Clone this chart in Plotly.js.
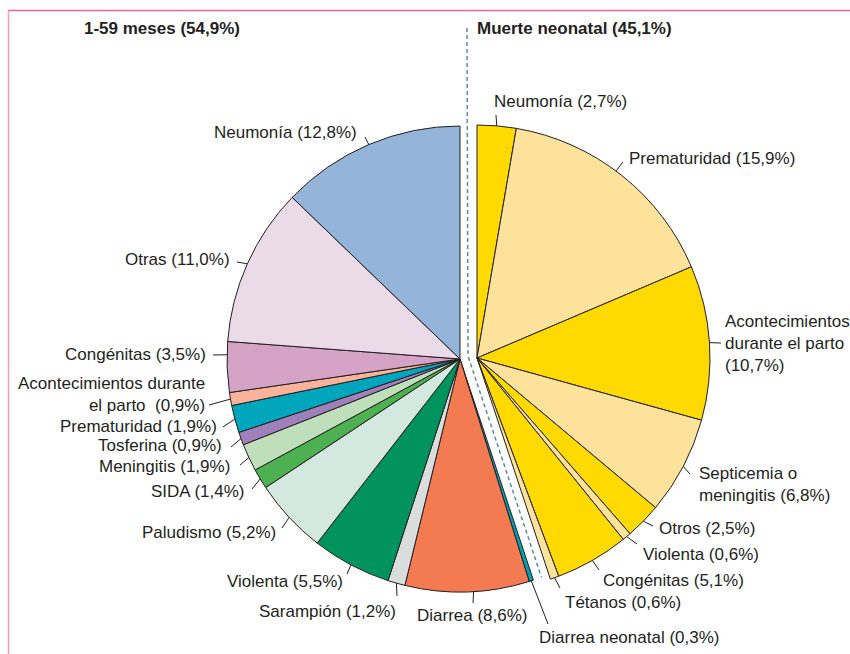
<!DOCTYPE html>
<html><head><meta charset="utf-8">
<script src="https://cdn.plot.ly/plotly-3.0.1.min.js"></script>
<style>html,body{margin:0;padding:0;background:#fff}#chart{width:850px;height:654px}</style>
</head><body><div id="chart"></div>
<script>
// ---------- DATA ----------
const groupTitles = ['1-59 meses (54,9%)', 'Muerte neonatal (45,1%)'];
const neonatalLabels = ['Neumonía', 'Prematuridad', 'Acontecimientos durante el parto', 'Septicemia o meningitis', 'Otros', 'Violenta', 'Congénitas', 'Tétanos', 'Diarrea neonatal'];
const neonatalValues = [2.7, 15.9, 10.7, 6.8, 2.5, 0.6, 5.1, 0.6, 0.3];
const childLabels = ['Diarrea', 'Sarampión', 'Violenta', 'Paludismo', 'SIDA', 'Meningitis', 'Tosferina', 'Prematuridad', 'Acontecimientos durante el parto', 'Congénitas', 'Otras', 'Neumonía'];
const childValues = [8.6, 1.2, 5.5, 5.2, 1.4, 1.9, 0.9, 1.9, 0.9, 3.5, 11.0, 12.8];

// ---------- STYLE ----------
const Y1 = '#FFDA00', Y2 = '#FDE29B';
const neonatalColors = [Y1, Y2, Y1, Y2, Y1, Y2, Y1, Y2, '#009FB4'];
const childColors = ['#F47A52', '#DADDDD', '#00935F', '#D3E8DE', '#4EB151', '#BEDFBA', '#A080BA', '#00A6BC', '#F8B39A', '#D4A3C5', '#EBDBE8', '#95B4D9'];
const W = 850, H = 654, R = 233;
const leftC = [460, 359], rightC = [477, 358];
const FONT = 'Liberation Sans, Arial, Helvetica, sans-serif';
const INK = '#231F20';
const LABEL_SIZE = 17;

// pieces: detached right piece = neonatal causes except neonatal diarrhoea
const nRight = neonatalLabels.length - 1;
const rightLabels = neonatalLabels.slice(0, nRight);
const rightValues = neonatalValues.slice(0, nRight);
const rightColors = neonatalColors.slice(0, nRight);
const leftLabels = neonatalLabels.slice(nRight).concat(childLabels);
const leftValues = neonatalValues.slice(nRight).concat(childValues);
const leftColors = neonatalColors.slice(nRight).concat(childColors);
const sum = a => a.reduce((s, v) => s + v, 0);
const rightSum = sum(rightValues), leftSum = sum(leftValues), total = rightSum + leftSum;

function dom(c) {
  return {x: [(c[0] - R) / W, (c[0] + R) / W], y: [1 - (c[1] + R) / H, 1 - (c[1] - R) / H]};
}
function pieTrace(labels, values, colors, blankBefore, blankAfter, center) {
  const L = [], V = [], C = [], LW = [];
  if (blankBefore) { L.push('\u200b_b'); V.push(blankBefore); C.push('rgba(0,0,0,0)'); LW.push(0); }
  labels.forEach((l, i) => { L.push(l); V.push(values[i]); C.push(colors[i]); LW.push(1); });
  if (blankAfter) { L.push('\u200b_a'); V.push(blankAfter); C.push('rgba(0,0,0,0)'); LW.push(0); }
  return {type: 'pie', labels: L, values: V, sort: false, direction: 'clockwise', rotation: 0,
    textinfo: 'none', hoverinfo: 'skip', showlegend: false, domain: dom(center),
    marker: {colors: C, line: {color: INK, width: LW}}};
}
const traces = [
  pieTrace(leftLabels, leftValues, leftColors, rightSum, 0, leftC),
  pieTrace(rightLabels, rightValues, rightColors, 0, leftSum, rightC)
];

// ---------- LABEL LAYOUT (text position, anchor, leader tail, tip fraction) ----------
const leftLayout = {
  'Diarrea neonatal': {t: [537, 637], a: 'left', l: [548, 624]},
  'Diarrea': {t: [472, 615], a: 'center', l: [473, 603], f: 0.45},
  'Sarampión': {t: [398, 611], a: 'right', l: [397, 596]},
  'Violenta': {t: [345, 581], a: 'right', l: [347, 574]},
  'Paludismo': {t: [278, 532], a: 'right', l: [282, 528]},
  'SIDA': {t: [247, 491], a: 'right', l: [252, 489]},
  'Meningitis': {t: [232, 466], a: 'right', l: [240, 465]},
  'Tosferina': {t: [224, 446], a: 'right', l: [231, 447]},
  'Prematuridad': {t: [219, 426], a: 'right', l: [223, 427]},
  'Acontecimientos durante el parto': {t: [207, 394], a: 'right', l: [209, 405], tpl: 'Acontecimientos durante<br>el parto\u00a0\u00a0({v})'},
  'Congénitas': {t: [208, 354], a: 'right', l: [213, 355], f: 0.74},
  'Otras': {t: [232, 259], a: 'right', l: [237, 262]},
  'Neumonía': {t: [359, 132], a: 'right', l: [365, 137]}
};
const rightLayout = {
  'Neumonía': {t: [492, 102], a: 'left', l: [496, 115]},
  'Prematuridad': {t: [627, 158], a: 'left', l: [623, 162], f: 0.47},
  'Acontecimientos durante el parto': {t: [723, 343], a: 'left', l: [721, 343], tpl: 'Acontecimientos<br>durante el parto<br>({v})'},
  'Septicemia o meningitis': {t: [697, 484], a: 'left', l: [690, 474], tpl: 'Septicemia o<br>meningitis ({v})'},
  'Otros': {t: [657, 528], a: 'left', l: [653, 526]},
  'Violenta': {t: [641, 554], a: 'left', l: [637, 544]},
  'Congénitas': {t: [601, 580], a: 'left', l: [599, 570]},
  'Tétanos': {t: [563, 602], a: 'left', l: [560, 588]}
};

const px = x => x / W, py = y => 1 - y / H;
const fmt = v => v.toFixed(1).replace('.', ',') + '%';
const annotations = [], shapes = [];

function addLabels(labels, values, startOffset, center, cfg) {
  let cum = startOffset;
  labels.forEach((lab, i) => {
    const v = values[i], c = cfg[lab];
    if (c) {
      const f = c.f === undefined ? 0.5 : c.f;
      const th = 2 * Math.PI * (cum + f * v) / total;
      const tip = [center[0] + R * Math.sin(th), center[1] - R * Math.cos(th)];
      const text = (c.tpl || (lab + ' ({v})')).replace('{v}', fmt(v));
      annotations.push({xref: 'paper', yref: 'paper', x: px(c.t[0]), y: py(c.t[1]), xanchor: c.a, yanchor: 'middle',
        align: c.a, text: text, showarrow: false, font: {family: FONT, size: LABEL_SIZE, color: INK}});
      shapes.push({type: 'line', xref: 'paper', yref: 'paper', x0: px(tip[0]), y0: py(tip[1]), x1: px(c.l[0]), y1: py(c.l[1]),
        line: {color: INK, width: 1}});
    }
    cum += v;
  });
}
addLabels(leftLabels, leftValues, rightSum, leftC, leftLayout);
addLabels(rightLabels, rightValues, 0, rightC, rightLayout);

// group titles
annotations.push({xref: 'paper', yref: 'paper', x: px(82), y: py(29), xanchor: 'left', yanchor: 'middle', showarrow: false,
  text: '<b>' + groupTitles[0] + '</b>', font: {family: FONT, size: 17, color: INK}});
annotations.push({xref: 'paper', yref: 'paper', x: px(475), y: py(29), xanchor: 'left', yanchor: 'middle', showarrow: false,
  text: '<b>' + groupTitles[1] + '</b>', font: {family: FONT, size: 17, color: INK}});

// dashed separator following the boundary between the two groups
const thB = 2 * Math.PI * rightSum / total;
const mid = [(leftC[0] + rightC[0]) / 2 - 0.5, (leftC[1] + rightC[1]) / 2 - 2.5];
const endP = [mid[0] + R * Math.sin(thB), mid[1] - R * Math.cos(thB)];
shapes.push({type: 'path', xref: 'paper', yref: 'paper',
  path: `M ${px(mid[0] - 1)},${py(28)} L ${px(mid[0])},${py(mid[1])} L ${px(endP[0])},${py(endP[1])}`,
  line: {color: '#5C8C9C', width: 1.5, dash: '4px,3px'}});

// pink frame
shapes.push({type: 'line', xref: 'paper', yref: 'paper', x0: px(8), x1: px(850), y0: py(10.5), y1: py(10.5), line: {color: '#F0648C', width: 1.5}});
shapes.push({type: 'line', xref: 'paper', yref: 'paper', x0: px(8.5), x1: px(8.5), y0: py(10.5), y1: py(654), line: {color: '#F4A0B8', width: 1.5}});

const layout = {width: W, height: H, margin: {l: 0, r: 0, t: 0, b: 0}, paper_bgcolor: '#fff',
  showlegend: false, annotations: annotations, shapes: shapes};
Plotly.newPlot('chart', traces, layout, {displayModeBar: false, staticPlot: true});
</script></body></html>
